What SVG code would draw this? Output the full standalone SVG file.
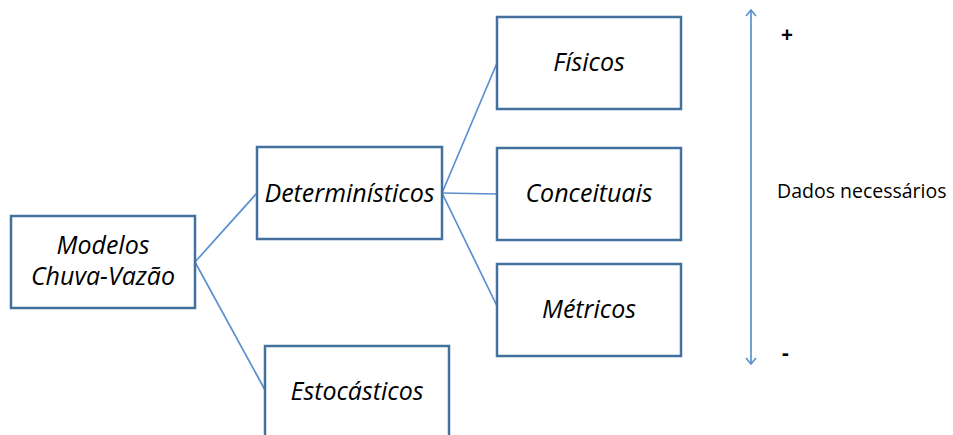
<svg xmlns="http://www.w3.org/2000/svg" width="953" height="435" viewBox="0 0 953 435">
  <style>
    .box { fill: #ffffff; stroke: #41719c; stroke-width: 2.5; }
    .lbl { font-family: "Open Sans", "Liberation Sans", sans-serif; font-style: italic; font-size: 25px; fill: #000000; text-anchor: middle; }
    .link { stroke: #5b8fd0; stroke-width: 1.7; fill: none; }
    .side { font-family: "Open Sans", "Liberation Sans", sans-serif; font-size: 19.5px; fill: #000000; }
    .sign { font-family: "Open Sans", "Liberation Sans", sans-serif; font-weight: bold; fill: #000000; }
  </style>
  <defs>
    <marker id="open" viewBox="0 0 12 12" refX="11" refY="6" markerWidth="12" markerHeight="12" markerUnits="userSpaceOnUse" orient="auto-start-reverse">
      <path d="M5,1 L11,6 L5,11" fill="none" stroke="#5b8fd0" stroke-width="1.6"/>
    </marker>
  </defs>

  <g id="connectors">
    <line class="link" x1="195" y1="262" x2="257" y2="193"/>
    <line class="link" x1="195" y1="262" x2="265" y2="390"/>
    <line class="link" x1="442" y1="193" x2="497" y2="63"/>
    <line class="link" x1="442" y1="193" x2="497" y2="194"/>
    <line class="link" x1="442" y1="193" x2="497" y2="306"/>
    <line class="link" x1="751" y1="364" x2="751" y2="10" marker-end="url(#open)" marker-start="url(#open)"/>
  </g>

  <g id="modelos">
    <rect class="box" x="11" y="216" width="184" height="92"/>
    <text class="lbl" x="103" y="254">Modelos</text>
    <text class="lbl" x="103" y="285">Chuva-Vazão</text>
  </g>
  <g id="deterministicos">
    <rect class="box" x="257" y="147" width="185" height="92"/>
    <text class="lbl" x="349.5" y="202">Determinísticos</text>
  </g>
  <g id="estocasticos">
    <rect class="box" x="265" y="346" width="184" height="100"/>
    <text class="lbl" x="357" y="400">Estocásticos</text>
  </g>
  <g id="fisicos">
    <rect class="box" x="497" y="17" width="184" height="92"/>
    <text class="lbl" x="589" y="71">Físicos</text>
  </g>
  <g id="conceituais">
    <rect class="box" x="497" y="148" width="184" height="92"/>
    <text class="lbl" x="589" y="202">Conceituais</text>
  </g>
  <g id="metricos">
    <rect class="box" x="497" y="264" width="184" height="92"/>
    <text class="lbl" x="589" y="318">Métricos</text>
  </g>
  <g id="escala">
    <text class="sign" x="781" y="42" font-size="21">+</text>
    <text class="side" x="777" y="198">Dados necessários</text>
    <text class="sign" x="782" y="360" font-size="21">-</text>
  </g>
</svg>
